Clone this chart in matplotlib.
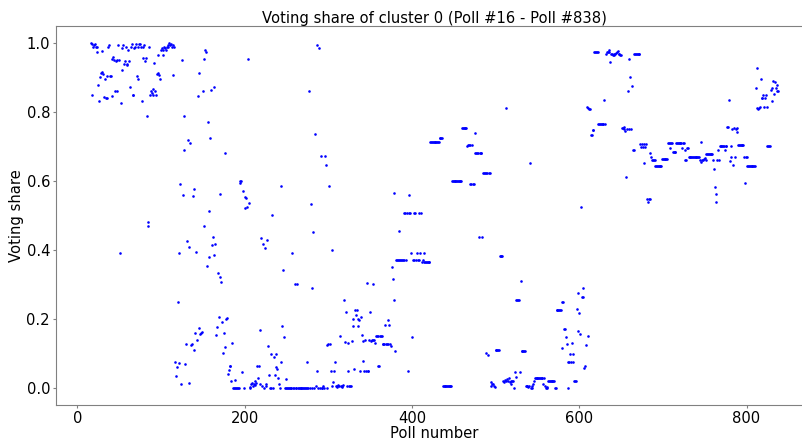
import numpy as np
import matplotlib
matplotlib.use("Agg")
import matplotlib.pyplot as plt

cluster_id = 0
first_poll = 16
last_poll = 838

# voting share of the cluster, one value per poll
share_016_115 = [
    1.00, 0.85, 0.997, 0.99, 0.995, 0.998, 0.99, 0.975, 0.99, 0.88,
    0.833, 0.903, 0.913, 0.917, 0.977, 0.91, 0.843, 0.895, 0.841, 0.84,
    0.905, 0.99, 0.994, 0.905, 0.905, 0.847, 0.953, 0.96, 0.951, 0.86,
    0.948, 0.861, 0.951, 0.994, 0.95, 0.39, 0.826, 0.922, 0.987, 0.996,
    0.939, 0.949, 0.99, 0.94, 0.938, 0.98, 0.949, 0.872, 0.99, 0.998,
    0.85, 0.85, 0.987, 0.99, 0.998, 0.905, 0.99, 0.897, 0.998, 0.998,
    0.99, 0.831, 0.99, 0.957, 0.994, 0.948, 0.957, 0.79, 0.48, 0.47,
    0.99, 0.85, 0.86, 0.855, 0.868, 0.85, 0.944, 0.86, 0.85, 0.91,
    0.965, 0.915, 0.909, 0.895, 0.98, 0.987, 0.979, 0.967, 0.99, 0.986,
    0.98, 0.99, 0.995, 0.99, 1.0, 0.995, 0.998, 0.99, 0.907, 0.994,
]
share_116_245 = [
    0.99, 0.075, 0.035, 0.06, 0.25, 0.39, 0.073, 0.59, 0.01, 0.95,
    0.56, 0.79, 0.69, 0.068, 0.128, 0.426, 0.719, 0.409, 0.014, 0.711,
    0.124, 0.128, 0.556, 0.111, 0.576, 0.158, 0.393, 0.14, 0.847, 0.915,
    0.173, 0.155, 0.16, 0.162, 0.86, 0.469, 0.955, 0.98, 0.975, 0.353,
    0.77, 0.379, 0.514, 0.724, 0.864, 0.414, 0.438, 0.386, 0.874, 0.418,
    0.153, 0.175, 0.333, 0.205, 0.321, 0.562, 0.307, 0.192, 0.1, 0.16,
    0.118, 0.682, 0.2, 0.203, 0.041, 0.052, 0.064, 0.064, 0.02, 0.129,
    0.0, 0.0, 0.023, 0.0, 0.0, 0.0, 0.0, 0.0, 0.593, 0.601,
    0.6, 0.045, 0.57, 0.0, 0.554, 0.523, 0.55, 0.525, 0.955, 0.537,
    0.003, 0.0, 0.01, 0.015, 0.005, 0.012, 0.02, 0.008, 0.015, 0.064,
    0.028, 0.062, 0.01, 0.169, 0.434, 0.005, 0.418, 0.0, 0.405, 0.012,
    0.004, 0.43, 0.12, 0.037, 0.0, 0.0, 0.098, 0.502, 0.0, 0.09,
    0.037, 0.06, 0.098, 0.055, 0.027, 0.012, 0.0, 0.075, 0.586, 0.18,
]
share_246_355 = [
    0.343, 0.146, 0.0, 0.026, 0.0, 0.0, 0.0, 0.0, 0.0, 0.0,
    0.0, 0.39, 0.0, 0.0, 0.302, 0.0, 0.0, 0.302, 0.0, 0.0,
    0.0, 0.0, 0.0, 0.0, 0.0, 0.0, 0.0, 0.0, 0.075, 0.0,
    0.0, 0.86, 0.0, 0.534, 0.0, 0.291, 0.452, 0.0, 0.736, 0.004,
    0.05, 0.994, 0.0, 0.986, 0.0, 0.672, 0.0, 0.0, 0.006, 0.0,
    0.672, 0.647, 0.124, 0.0, 0.126, 0.586, 0.126, 0.05, 0.401, 0.005,
    0.016, 0.05, 0.074, 0.005, 0.003, 0.005, 0.008, 0.004, 0.15, 0.006,
    0.005, 0.003, 0.008, 0.254, 0.132, 0.221, 0.005, 0.05, 0.13, 0.005,
    0.006, 0.006, 0.136, 0.2, 0.18, 0.054, 0.227, 0.21, 0.227, 0.2,
    0.18, 0.198, 0.05, 0.204, 0.153, 0.077, 0.137, 0.05, 0.139, 0.05,
    0.304, 0.05, 0.05, 0.14, 0.221, 0.136, 0.14, 0.3, 0.138, 0.14,
]
share_356_465 = [
    0.13, 0.15, 0.15, 0.064, 0.15, 0.064, 0.15, 0.15, 0.15, 0.128,
    0.128, 0.128, 0.181, 0.128, 0.128, 0.128, 0.196, 0.181, 0.128, 0.12,
    0.351, 0.316, 0.565, 0.256, 0.108, 0.372, 0.372, 0.372, 0.456, 0.372,
    0.372, 0.372, 0.372, 0.372, 0.372, 0.507, 0.507, 0.372, 0.507, 0.05,
    0.559, 0.507, 0.507, 0.39, 0.148, 0.372, 0.507, 0.372, 0.507, 0.372,
    0.39, 0.372, 0.507, 0.372, 0.39, 0.507, 0.365, 0.372, 0.365, 0.39,
    0.365, 0.365, 0.365, 0.365, 0.365, 0.365, 0.713, 0.713, 0.713, 0.713,
    0.713, 0.713, 0.713, 0.713, 0.713, 0.713, 0.713, 0.725, 0.725, 0.725,
    0.725, 0.005, 0.005, 0.005, 0.005, 0.005, 0.005, 0.005, 0.005, 0.005,
    0.005, 0.005, 0.599, 0.599, 0.599, 0.599, 0.599, 0.599, 0.599, 0.599,
    0.599, 0.599, 0.599, 0.599, 0.754, 0.754, 0.754, 0.754, 0.754, 0.754,
]
share_466_585 = [
    0.703, 0.704, 0.704, 0.704, 0.592, 0.592, 0.704, 0.592, 0.592, 0.681,
    0.738, 0.681, 0.681, 0.681, 0.438, 0.681, 0.681, 0.681, 0.438, 0.624,
    0.624, 0.624, 0.624, 0.1, 0.624, 0.094, 0.624, 0.624, 0.004, 0.018,
    0.01, 0.012, 0.005, 0.003, 0.11, 0.11, 0.11, 0.11, 0.11, 0.383,
    0.383, 0.383, 0.383, 0.02, 0.018, 0.022, 0.02, 0.811, 0.025, 0.02,
    0.028, 0.018, 0.02, 0.01, 0.02, 0.02, 0.0, 0.046, 0.03, 0.256,
    0.256, 0.256, 0.256, 0.046, 0.309, 0.106, 0.106, 0.106, 0.106, 0.106,
    0.006, 0.006, 0.006, 0.002, 0.006, 0.652, 0.0, 0.0, 0.005, 0.01,
    0.02, 0.028, 0.028, 0.028, 0.028, 0.028, 0.028, 0.028, 0.028, 0.028,
    0.028, 0.01, 0.028, 0.006, 0.0, 0.0, 0.003, 0.02, 0.02, 0.02,
    0.02, 0.02, 0.02, 0.02, 0.02, 0.0, 0.0, 0.227, 0.227, 0.227,
    0.227, 0.227, 0.227, 0.116, 0.25, 0.25, 0.17, 0.17, 0.147, 0.127,
]
share_586_705 = [
    0.0, 0.074, 0.074, 0.099, 0.074, 0.131, 0.074, 0.099, 0.019, 0.019,
    0.019, 0.229, 0.164, 0.276, 0.217, 0.157, 0.526, 0.263, 0.263, 0.29,
    0.058, 0.062, 0.123, 0.816, 0.151, 0.812, 0.808, 0.81, 0.733, 0.733,
    0.747, 0.747, 0.975, 0.975, 0.975, 0.975, 0.975, 0.765, 0.765, 0.765,
    0.765, 0.765, 0.765, 0.765, 0.836, 0.765, 0.97, 0.975, 0.975, 0.98,
    0.975, 0.946, 0.97, 0.97, 0.965, 0.965, 0.968, 0.97, 0.972, 0.975,
    0.976, 0.97, 0.97, 0.967, 0.967, 0.754, 0.754, 0.75, 0.758, 0.746,
    0.612, 0.75, 0.86, 0.955, 0.75, 0.903, 0.75, 0.876, 0.69, 0.689,
    0.969, 0.969, 0.969, 0.969, 0.969, 0.969, 0.969, 0.707, 0.7, 0.707,
    0.7, 0.707, 0.651, 0.7, 0.707, 0.547, 0.539, 0.547, 0.547, 0.68,
    0.67, 0.66, 0.66, 0.66, 0.66, 0.644, 0.644, 0.644, 0.644, 0.644,
    0.644, 0.644, 0.644, 0.665, 0.665, 0.665, 0.665, 0.665, 0.665, 0.665,
]
share_706_838 = [
    0.711, 0.711, 0.711, 0.696, 0.711, 0.711, 0.685, 0.685, 0.685, 0.685,
    0.711, 0.711, 0.711, 0.711, 0.711, 0.711, 0.711, 0.695, 0.711, 0.711,
    0.689, 0.66, 0.66, 0.695, 0.695, 0.669, 0.669, 0.669, 0.669, 0.669,
    0.669, 0.669, 0.669, 0.669, 0.669, 0.669, 0.669, 0.669, 0.66, 0.714,
    0.655, 0.66, 0.662, 0.665, 0.668, 0.66, 0.678, 0.678, 0.678, 0.678,
    0.678, 0.678, 0.678, 0.678, 0.66, 0.636, 0.582, 0.563, 0.538, 0.66,
    0.69, 0.66, 0.703, 0.703, 0.703, 0.703, 0.703, 0.703, 0.69, 0.703,
    0.703, 0.757, 0.757, 0.834, 0.657, 0.703, 0.67, 0.752, 0.646, 0.755,
    0.67, 0.75, 0.755, 0.742, 0.706, 0.706, 0.706, 0.706, 0.706, 0.706,
    0.706, 0.67, 0.595, 0.67, 0.67, 0.645, 0.645, 0.645, 0.645, 0.645,
    0.645, 0.645, 0.645, 0.645, 0.645, 0.869, 0.927, 0.812, 0.81, 0.812,
    0.814, 0.896, 0.841, 0.841, 0.85, 0.814, 0.841, 0.85, 0.814, 0.703,
    0.703, 0.703, 0.703, 0.865, 0.831, 0.871, 0.889, 0.854, 0.887, 0.871,
    0.86, 0.88, 0.86,
]

share = np.array(share_016_115 + share_116_245 + share_246_355 + share_356_465
                 + share_466_585 + share_586_705 + share_706_838)
polls = np.arange(first_poll, first_poll + len(share))

fig = plt.figure(figsize=(8.03, 4.42), dpi=100)
# the reference is cropped on the right, so the axes run slightly past the figure edge
ax = fig.add_axes([0.0701, 0.0837, 0.942, 0.8575])

ax.scatter(polls, share, s=3.5, color="blue", linewidths=0)

ax.set_title(f"Voting share of cluster {cluster_id} (Poll #{first_poll} - Poll #{last_poll})",
             fontsize=10.6, pad=2)
ax.set_xlabel("Poll number", fontsize=10.6, labelpad=0)
ax.set_ylabel("Voting share", fontsize=10.6, labelpad=2)
ax.tick_params(labelsize=10.6, color="gray", length=2.5, pad=2)
for spine in ax.spines.values():
    spine.set_color("gray")

fig.savefig("out.png", dpi=100)
